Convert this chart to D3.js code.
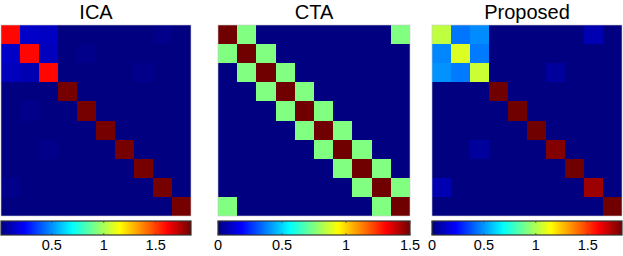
<!DOCTYPE html>
<html>
<head>
<meta charset="utf-8">
<script src="https://cdn.jsdelivr.net/npm/d3@7"></script>
<style>
  body { margin: 0; background: #fff; }
  svg { display: block; }
  text { font-family: "Liberation Sans", Arial, sans-serif; fill: #000; }
</style>
</head>
<body>
<svg id="chart" width="623" height="256"></svg>
<script>
// panel titles
const titles = ["ICA", "CTA", "Proposed"];

// 10x10 matrices (row = y, col = x)
const icaMatrix = [
  [1.60, 0.14, 0.13, 0.01, 0.01, 0.01, 0.01, 0.01, 0.03, 0.01],
  [0.14, 1.60, 0.12, 0.01, 0.03, 0.01, 0.01, 0.01, 0.01, 0.01],
  [0.12, 0.10, 1.60, 0.01, 0.01, 0.01, 0.01, 0.03, 0.01, 0.01],
  [0.01, 0.01, 0.01, 1.83, 0.01, 0.01, 0.01, 0.01, 0.01, 0.01],
  [0.01, 0.03, 0.01, 0.01, 1.83, 0.01, 0.01, 0.01, 0.01, 0.01],
  [0.01, 0.01, 0.01, 0.01, 0.01, 1.83, 0.01, 0.01, 0.01, 0.01],
  [0.01, 0.01, 0.03, 0.01, 0.01, 0.01, 1.83, 0.01, 0.01, 0.01],
  [0.01, 0.01, 0.01, 0.01, 0.01, 0.01, 0.01, 1.83, 0.01, 0.01],
  [0.03, 0.01, 0.01, 0.01, 0.01, 0.01, 0.01, 0.01, 1.83, 0.01],
  [0.01, 0.01, 0.01, 0.01, 0.01, 0.01, 0.01, 0.01, 0.01, 1.83]
];

const ctaMatrix = [
  [1.5, 0.75, 0, 0, 0, 0, 0, 0, 0, 0.75],
  [0.75, 1.5, 0.75, 0, 0, 0, 0, 0, 0, 0],
  [0, 0.75, 1.5, 0.75, 0, 0, 0, 0, 0, 0],
  [0, 0, 0.75, 1.5, 0.75, 0, 0, 0, 0, 0],
  [0, 0, 0, 0.75, 1.5, 0.75, 0, 0, 0, 0],
  [0, 0, 0, 0, 0.75, 1.5, 0.75, 0, 0, 0],
  [0, 0, 0, 0, 0, 0.75, 1.5, 0.75, 0, 0],
  [0, 0, 0, 0, 0, 0, 0.75, 1.5, 0.75, 0],
  [0, 0, 0, 0, 0, 0, 0, 0.75, 1.5, 0.75],
  [0.75, 0, 0, 0, 0, 0, 0, 0, 0.75, 1.5]
];

const proposedMatrix = [
  [1.03, 0.44, 0.48, 0, 0, 0, 0, 0, 0.09, 0],
  [0.47, 1.08, 0.45, 0, 0, 0, 0, 0, 0, 0],
  [0.49, 0.45, 1.05, 0, 0, 0, 0.05, 0, 0, 0],
  [0, 0, 0, 1.83, 0, 0, 0, 0, 0, 0],
  [0, 0, 0, 0, 1.83, 0, 0, 0, 0, 0],
  [0, 0, 0, 0, 0, 1.83, 0, 0, 0, 0],
  [0, 0, 0.05, 0, 0, 0, 1.80, 0, 0, 0],
  [0, 0, 0, 0, 0, 0, 0, 1.83, 0, 0],
  [0.09, 0, 0, 0, 0, 0, 0, 0, 1.76, 0],
  [0, 0, 0, 0, 0, 0, 0, 0, 0, 1.83]
];

// colour limits and colorbar ticks per panel
const colorDomains = [[0.01, 1.84], [0, 1.5], [0, 1.83]];
const colorTicks = [[0.5, 1, 1.5], [0, 0.5, 1, 1.5], [0, 0.5, 1, 1.5]];

// MATLAB jet colormap stops
const jetStops = [0, 0.125, 0.375, 0.625, 0.875, 1];
const jetColors = ["#000080", "#0000ff", "#00ffff", "#ffff00", "#ff0000", "#700000"];

const matrices = [icaMatrix, ctaMatrix, proposedMatrix];
const panelX = [[1, 191], [218, 410], [432, 622]];
const mapTop = 25, mapBottom = 216;
const barTop = 221, barBottom = 235;

const svg = d3.select('#chart');
const jet = d3.scaleLinear().domain(jetStops).range(jetColors).interpolate(d3.interpolateRgb).clamp(true);
const defs = svg.append('defs');

const grad = defs.append('linearGradient').attr('id', 'jet-grad');
d3.range(0, 1.0001, 1 / 64).forEach(t => {
  grad.append('stop').attr('offset', t).attr('stop-color', jet(t));
});

const idx = d3.range(10);

matrices.forEach((m, p) => {
  const [x0, x1] = panelX[p];
  const g = svg.append('g');

  const x = d3.scaleBand().domain(idx).range([x0, x1]);
  const y = d3.scaleBand().domain(idx).range([mapTop, mapBottom]);
  const color = d3.scaleLinear().domain(colorDomains[p]).range([0, 1]).clamp(true);

  const cells = m.flatMap((row, i) => row.map((v, j) => ({ i, j, v })));
  g.selectAll('rect.cell')
    .data(cells)
    .join('rect')
    .attr('class', 'cell')
    .attr('x', d => Math.round(x(d.j)))
    .attr('y', d => Math.round(y(d.i)))
    .attr('width', d => Math.round(x(d.j) + x.bandwidth()) - Math.round(x(d.j)))
    .attr('height', d => Math.round(y(d.i) + y.bandwidth()) - Math.round(y(d.i)))
    .attr('shape-rendering', 'crispEdges')
    .attr('fill', d => jet(color(d.v)));

  // light axes box
  g.append('rect')
    .attr('x', x0).attr('y', mapTop)
    .attr('width', x1 - x0).attr('height', mapBottom - mapTop)
    .attr('fill', 'none').attr('stroke', '#c8c8c8').attr('stroke-width', 0.6);

  // title
  g.append('text')
    .attr('x', (x0 + x1) / 2).attr('y', 18.5)
    .attr('text-anchor', 'middle')
    .style('font-size', '20px')
    .text(titles[p]);

  // colorbar
  const cb = d3.scaleLinear().domain(colorDomains[p]).range([x0, x1]);
  g.append('rect')
    .attr('x', x0).attr('y', barTop)
    .attr('width', x1 - x0).attr('height', barBottom - barTop)
    .attr('fill', 'url(#jet-grad)')
    .attr('stroke', '#333').attr('stroke-width', 1.2);

  const ticks = colorTicks[p];
  g.selectAll('line.tt')
    .data(ticks)
    .join('line')
    .attr('class', 'tt')
    .attr('x1', d => cb(d)).attr('x2', d => cb(d))
    .attr('y1', barTop).attr('y2', barTop + 2)
    .attr('stroke', '#444').attr('stroke-width', 0.8);
  g.selectAll('line.tb')
    .data(ticks)
    .join('line')
    .attr('class', 'tb')
    .attr('x1', d => cb(d)).attr('x2', d => cb(d))
    .attr('y1', barBottom - 2).attr('y2', barBottom)
    .attr('stroke', '#444').attr('stroke-width', 0.8);

  g.selectAll('text.tl')
    .data(ticks)
    .join('text')
    .attr('class', 'tl')
    .attr('x', d => cb(d))
    .attr('y', 250)
    .attr('text-anchor', 'middle')
    .style('font-size', '14.5px')
    .text(d => d3.format('~g')(d));
});
</script>
</body>
</html>
